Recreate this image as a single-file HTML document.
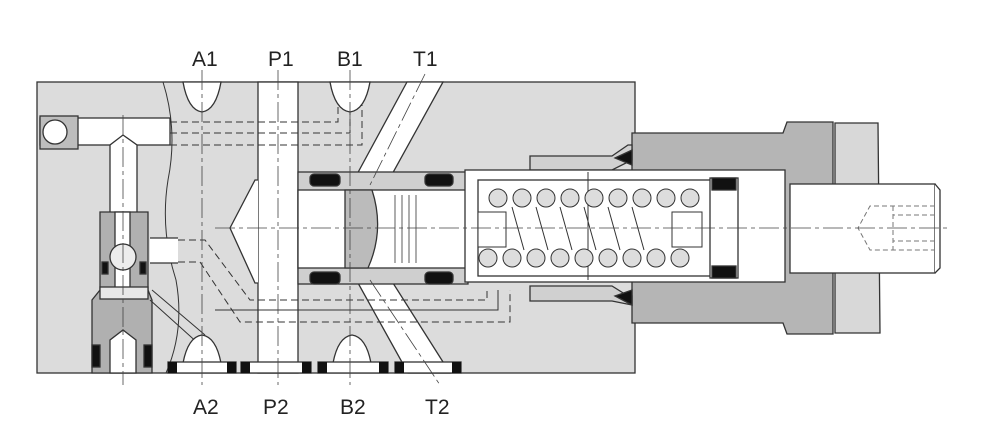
<!DOCTYPE html>
<html><head><meta charset="utf-8"><style>
html,body{margin:0;padding:0;background:#fff;width:992px;height:441px;overflow:hidden}
svg{display:block}
text{font-family:"Liberation Sans",sans-serif;font-size:21px;fill:#222}
</style></head><body>
<svg width="992" height="441" viewBox="0 0 992 441" xmlns="http://www.w3.org/2000/svg">
<g stroke="#333" stroke-width="1.3">
<rect x="37" y="82" width="598" height="291" fill="#dcdcdc"/>
<path d="M163 82 Q178 130 168 180 Q160 230 176 280 Q185 330 166 373" fill="none" stroke-width="1"/>
<rect x="40" y="118" width="130" height="27" fill="#fff"/>
<rect x="40" y="116" width="38" height="33" fill="#bdbdbd"/>
<circle cx="55" cy="132" r="12" fill="#fff"/>
<path d="M110 145 L110 215 L137 215 L137 145 L123 135 Z" fill="#fff"/>
<path d="M92 373 L92 300 L100 290 L100 212 L148 212 L148 290 L152 300 L152 373 Z" fill="#b0b0b0"/>
<rect x="115" y="212" width="15" height="80" fill="#fff"/>
<circle cx="123" cy="257" r="13" fill="#ececec"/>
<rect x="150" y="238" width="28" height="25" fill="#fff" stroke="none"/>
<line x1="150" y1="238" x2="178" y2="238"/><line x1="150" y1="263" x2="178" y2="263"/>
<rect x="100" y="287" width="48" height="12" fill="#e8e8e8"/>
<path d="M110 373 L110 340 L123 330 L136 340 L136 373 Z" fill="#fff"/>
<rect x="92" y="345" width="8" height="22" fill="#111"/><rect x="144" y="345" width="8" height="22" fill="#111"/>
<rect x="102" y="262" width="6" height="12" fill="#111"/><rect x="140" y="262" width="6" height="12" fill="#111"/>
<path d="M150 300 L200 345 M152 290 L205 335" fill="none" stroke-width="1"/>
<path d="M183 82 Q188 110 202 112 Q216 110 221 82 Z" fill="#fff"/>
<path d="M330 82 Q335 110 350 112 Q365 110 370 82 Z" fill="#fff"/>
<path d="M183 363 Q188 337 202 335 Q216 337 221 363 Z" fill="#fff"/>
<path d="M333 363 Q338 337 352 335 Q366 337 371 363 Z" fill="#fff"/>
<rect x="258" y="82" width="40" height="291" fill="#fff"/>
<path d="M407 82 L443 82 L390 178 L355 178 Z" fill="#fff"/>
<path d="M358 283 L393 283 L450 373 L408 373 Z" fill="#fff"/>
<path d="M258 180 L255 180 L230 228 L255 283 L258 283" fill="#fff"/>
<rect x="298" y="172" width="170" height="112" fill="#cfcfcf"/>
<rect x="298" y="190" width="170" height="78" fill="#fff"/>
<path d="M345 190 L372 190 Q385 230 368 268 L345 268 Z" fill="#bbb"/>
<rect x="310" y="174" width="30" height="12" rx="4" fill="#111"/>
<rect x="310" y="272" width="30" height="12" rx="4" fill="#111"/>
<rect x="425" y="174" width="28" height="12" rx="4" fill="#111"/>
<rect x="425" y="272" width="28" height="12" rx="4" fill="#111"/>
<g stroke-width="0.8"><line x1="395" y1="195" x2="395" y2="263"/><line x1="402" y1="195" x2="402" y2="263"/><line x1="409" y1="195" x2="409" y2="263"/><line x1="416" y1="195" x2="416" y2="263"/></g>
<g fill="none" stroke-dasharray="7 4" stroke-width="1">
<path d="M170 122 L338 122 L338 105"/><path d="M170 133 L350 133 L350 112"/><path d="M170 145 L362 145 L362 105"/>
<path d="M178 240 L205 240 L250 300 L487 300 L487 290"/>
<path d="M178 262 L200 262 L240 322 L510 322 L510 290"/>
</g>
<path d="M215 310 L498 310 L498 290" fill="none" stroke-width="1"/>
<g fill="#fff"><rect x="168" y="362" width="68" height="11"/><rect x="241" y="362" width="70" height="11"/><rect x="318" y="362" width="70" height="11"/><rect x="395" y="362" width="66" height="11"/></g>
<g fill="#111" stroke="none"><rect x="168" y="362" width="9" height="11"/><rect x="227" y="362" width="9" height="11"/><rect x="241" y="362" width="9" height="11"/><rect x="302" y="362" width="9" height="11"/><rect x="318" y="362" width="9" height="11"/><rect x="379" y="362" width="9" height="11"/><rect x="395" y="362" width="9" height="11"/><rect x="452" y="362" width="9" height="11"/></g>
<path d="M632 133 L783 133 L787 122 L833 122 L833 334 L787 334 L783 323 L632 323 Z" fill="#b5b5b5"/>
<path d="M835 123 L878 123 L880 333 L835 333 Z" fill="#d8d8d8"/>
<path d="M530 156 L612 156 L628 145 L632 145 L632 160 L612 170 L530 170 Z" fill="#d0d0d0"/>
<path d="M530 286 L612 286 L628 296 L632 296 L632 305 L612 301 L530 301 Z" fill="#d0d0d0"/>
<path d="M615 158 L632 150 L632 165 Z M615 296 L632 290 L632 305 Z" fill="#111"/>
<rect x="465" y="170" width="320" height="112" fill="#fff"/>
<rect x="478" y="180" width="248" height="96" fill="#fff"/>
<line x1="588" y1="172" x2="588" y2="280" stroke-width="1"/>
<rect x="710" y="178" width="28" height="100" fill="#fff"/>
<rect x="712" y="178" width="24" height="12" fill="#111"/><rect x="712" y="266" width="24" height="12" fill="#111"/>
<rect x="790" y="184" width="145" height="89" fill="#fff"/>
<path d="M935 184 L940 190 L940 268 L935 273" fill="#fff"/>
</g>
<g stroke="#333" stroke-width="1" fill="#ddd">
<g>
<circle cx="498" cy="198" r="9"/><circle cx="522" cy="198" r="9"/><circle cx="546" cy="198" r="9"/><circle cx="570" cy="198" r="9"/><circle cx="594" cy="198" r="9"/><circle cx="618" cy="198" r="9"/><circle cx="642" cy="198" r="9"/><circle cx="666" cy="198" r="9"/><circle cx="690" cy="198" r="9"/>
<circle cx="488" cy="258" r="9"/><circle cx="512" cy="258" r="9"/><circle cx="536" cy="258" r="9"/><circle cx="560" cy="258" r="9"/><circle cx="584" cy="258" r="9"/><circle cx="608" cy="258" r="9"/><circle cx="632" cy="258" r="9"/><circle cx="656" cy="258" r="9"/><circle cx="680" cy="258" r="9"/>
</g>
<g fill="none"><path d="M512 207 L524 250 M536 207 L548 250 M560 207 L572 250 M584 207 L596 250 M608 207 L620 250 M632 207 L644 250"/></g>
<rect x="478" y="212" width="28" height="35" fill="#fff"/><rect x="672" y="212" width="30" height="35" fill="#fff"/>
</g>
<g fill="none" stroke="#777" stroke-dasharray="5 3" stroke-width="1"><path d="M935 206 L870 206 L858 228 L870 250 L935 250"/><path d="M893 206 L893 250 M935 215 L893 215 M935 241 L893 241"/></g>
<g stroke="#444" stroke-width="0.8" fill="none" stroke-dasharray="20 4 4 4">
<line x1="215" y1="228" x2="950" y2="228"/>
<line x1="123" y1="115" x2="123" y2="385"/>
<line x1="202" y1="70" x2="202" y2="385"/><line x1="278" y1="70" x2="278" y2="385"/><line x1="350" y1="70" x2="350" y2="385"/>
<line x1="425" y1="74" x2="370" y2="185"/><line x1="370" y1="280" x2="440" y2="385"/>
</g>
<text x="192" y="66">A1</text><text x="268" y="66">P1</text><text x="337" y="66">B1</text><text x="413" y="66">T1</text>
<text x="193" y="414">A2</text><text x="263" y="414">P2</text><text x="340" y="414">B2</text><text x="425" y="414">T2</text>
</svg>
</body></html>
